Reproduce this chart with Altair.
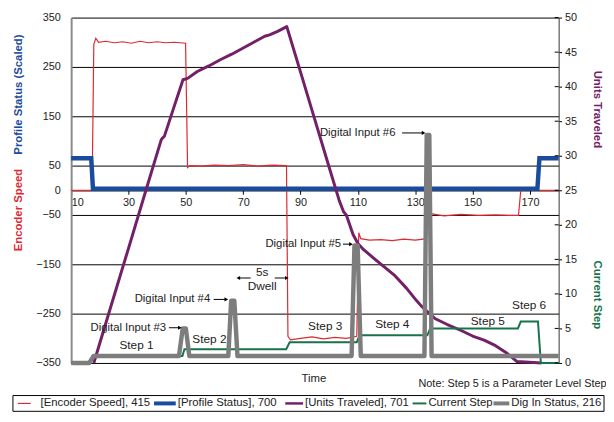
import altair as alt
import pandas as pd

# ---------------- data ----------------
red_t = [10, 17.3, 17.9, 18.6, 19.6, 22, 25, 28, 31, 34, 37, 40, 43, 46, 49.9, 50.6, 51.4, 55, 60, 65, 70, 75, 80,
         85.1, 85.6, 86.5, 90, 94, 98, 102, 106, 109.6, 110.3, 111.0, 114, 118, 122, 126, 130, 133.9, 134.5, 136,
         140, 146, 152, 158, 163, 166.0, 166.8, 172, 180]
red_v = [0, 0, 296, 308, 300, 302, 299, 301, 298, 302, 299, 301, 299, 300, 298, 46, 50, 49, 51, 50, 52, 49, 51,
         50, -296, -303, -300, -297, -301, -298, -300, -296, -86, -98, -101, -100, -102, -99, -101, -98, -50, -48,
         -52, -49, -51, -50, -51, -51, 0, 0, 0]

blue_t = [10, 17.0, 17.6, 172.6, 173.3, 180]
blue_v = [65, 65, 3, 3, 65, 65]

pur_t = [17.9, 24, 30, 36, 41.4, 41.9, 42.5, 45.5, 49.0, 50.6, 54, 58, 62, 66, 70, 74, 77.5, 79.2, 82, 85.2,
         90, 95, 100, 103.5, 105.0, 106.0, 108.3, 110, 112, 116, 119.5, 123, 127, 130.5, 132, 134, 137, 141, 146,
         150, 154, 158, 162, 165.5, 174]
pur_r = [0, 8.4, 16.6, 24.9, 32.3, 32.6, 32.8, 36.6, 41.0, 41.2, 42.2, 43.0, 43.9, 44.7, 45.6, 46.5, 47.3, 47.5,
         48.0, 48.7, 42.1, 35.2, 28.3, 23.5, 21.9, 21.4, 18.6, 17.3, 16.4, 15.0, 13.8, 12.6, 10.8, 9.0, 8.3, 7.5,
         6.4, 5.6, 4.7, 3.9, 3.3, 2.5, 1.4, 0.2, 0]

grn_t = [10, 16.5, 17.5, 48.8, 49.5, 85.0, 86.2, 109.6, 110.6, 134.2, 135.2, 165.8, 166.8, 172.8, 173.8, 180]
grn_r = [0, 0, 1, 1, 2, 2, 3, 3, 4, 4, 5, 5, 6, 6, 0, 0]

gry_t = [10, 16.3, 17.8, 47.6, 48.9, 50.0, 51.2, 64.8, 65.8, 66.9, 68.0, 107.8, 108.8, 109.9, 111.0,
         133.2, 134.0, 134.9, 135.7, 180]
gry_r = [0, 0, 1, 1, 5, 5, 1, 1, 9, 9, 1, 1, 17, 17, 1, 1, 33, 33, 1, 1]

x_ticks = [10, 30, 50, 70, 90, 110, 130, 150, 170]
yl_ticks = [350, 250, 150, 50, 0, -50, -150, -250, -350]
yr_ticks = [0, 5, 10, 15, 20, 25, 30, 35, 40, 45, 50]

# annotations (time, right-scale value)
din_labels = ["Digital Input #3", "Digital Input #4", "Digital Input #5", "Digital Input #6"]
din_t = [43.1, 58.5, 104.1, 123.1]
din_r = [5.1, 9.2, 17.2, 33.3]
arrow_t1 = [44.1, 59.7, 104.8, 125.4, 72.6, 81.0]
arrow_t2 = [47.9, 64.1, 107.6, 132.9, 68.3, 85.2]
arrow_r = [5.1, 9.2, 17.2, 33.3, 12.3, 12.3]
arrow_dir = ["triangle-right", "triangle-right", "triangle-right", "triangle-right", "triangle-left", "triangle-right"]

step_labels = ["Step 1", "Step 2", "Step 3", "Step 4", "Step 5", "Step 6", "5s", "Dwell"]
step_t = [32.8, 58.2, 98.6, 122.0, 155.3, 169.7, 76.6, 76.6]
step_r = [2.6, 3.4, 5.3, 5.7, 6.0, 8.4, 13.2, 11.1]

legend_labels = ["[Encoder Speed], 415", "[Profile Status], 700", "[Units Traveled], 701", "Current Step",
                 "Dig In Status, 216"]

# ---------------- styles ----------------
FONT = "Liberation Sans, Arial, sans-serif"
RED = "#dc2a32"
BLUE = "#1a4b9c"
PURPLE = "#722068"
GREEN = "#17744a"
GREY = "#7d7d7d"
TXT = "#222222"

df_red = pd.DataFrame({"t": red_t, "v": red_v})
df_blue = pd.DataFrame({"t": blue_t, "v": blue_v})
df_pur = pd.DataFrame({"t": pur_t, "r": pur_r})
df_grn = pd.DataFrame({"t": grn_t, "r": grn_r})
df_gry = pd.DataFrame({"t": gry_t, "r": gry_r})
df_din = pd.DataFrame({"t": din_t, "r": din_r, "label": din_labels})
df_arr = pd.DataFrame({"t1": arrow_t1, "t2": arrow_t2, "r": arrow_r, "shape": arrow_dir})
df_step = pd.DataFrame({"t": step_t, "r": step_r, "label": step_labels})
df_rt = pd.DataFrame({"r": yr_ticks})

xscale = alt.Scale(domain=[10, 180], nice=False, zero=False)
xaxis = alt.Axis(values=x_ticks, offset=-175, title=None, grid=False, labelFont=FONT, labelFontSize=11,
                 labelColor=TXT, tickSize=4, tickColor="#000", domainColor="#000", labelPadding=2)

ylscale = alt.Scale(domain=[-350, 350], nice=False, zero=False)
ylaxis = alt.Axis(values=yl_ticks, orient="left", title=None, grid=True, gridColor="#000", gridOpacity=1,
                  gridWidth=1, ticks=False, labelPadding=11, domainColor="#8a8a8a", domainWidth=2,
                  labelFont=FONT, labelFontSize=11, labelColor=TXT)

yrscale = alt.Scale(domain=[0, 50], nice=False, zero=False)
yraxis = alt.Axis(values=yr_ticks, orient="right", title=None, grid=False, tickSize=3, tickColor="#000",
                  domainColor="#333", domainWidth=1, labelPadding=3, labelFont=FONT, labelFontSize=11,
                  labelColor=TXT)


def XF(f):
    return alt.X(f, type="quantitative", scale=xscale, axis=xaxis)


def YL(f):
    return alt.Y(f, type="quantitative", scale=ylscale, axis=ylaxis)


def YR(f):
    return alt.Y(f, type="quantitative", scale=yrscale, axis=yraxis)


red = alt.Chart(df_red).mark_line(color=RED, strokeWidth=1.2).encode(x=XF("t"), y=YL("v"), order="t:Q")
blue = alt.Chart(df_blue).mark_line(color=BLUE, strokeWidth=4.5).encode(x=XF("t"), y=YL("v"), order="t:Q")
left = alt.layer(red, blue)

pur = alt.Chart(df_pur).mark_line(color=PURPLE, strokeWidth=3, strokeJoin="round").encode(
    x=XF("t"), y=YR("r"), order="t:Q")
grn = alt.Chart(df_grn).mark_line(color=GREEN, strokeWidth=2).encode(x=XF("t"), y=YR("r"), order="t:Q")
gry = alt.Chart(df_gry).mark_line(color=GREY, strokeWidth=4.5, strokeJoin="round").encode(
    x=XF("t"), y=YR("r"), order="t:Q")
rticks = alt.Chart(df_rt).mark_rule(color="#000", strokeWidth=1).encode(
    y=YR("r"), x=alt.value(490), x2=alt.value(494))
din_text = alt.Chart(df_din).mark_text(align="right", baseline="middle", font=FONT, fontSize=11.5,
                                        color=TXT).encode(x=XF("t"), y=YR("r"), text="label:N")
step_text = alt.Chart(df_step).mark_text(align="center", baseline="middle", font=FONT, fontSize=12,
                                          color=TXT).encode(x=XF("t"), y=YR("r"), text="label:N")
arr_line = alt.Chart(df_arr).mark_rule(color="#000", strokeWidth=1).encode(
    x=XF("t1"), x2="t2:Q", y=YR("r"))
arr_head = alt.Chart(df_arr).mark_point(filled=True, color="#000", size=18, opacity=1).encode(
    x=XF("t2"), y=YR("r"), shape=alt.Shape("shape:N", scale=None))
right = alt.layer(pur, grn, gry, rticks, din_text, step_text, arr_line, arr_head)

one = pd.DataFrame({"a": [0]})


def label(txt, x, y, color=TXT, size=11, angle=0, bold=False, align="center"):
    return alt.Chart(one).mark_text(font=FONT, fontSize=size, angle=angle, color=color,
                                    fontWeight="bold" if bold else "normal", align=align,
                                    baseline="middle").encode(
        x=alt.value(x), y=alt.value(y), text=alt.value(txt))


overlays = [
    label("Profile Status (Scaled)", -53, 78, BLUE, 11.5, 270, True),
    label("Encoder Speed", -53, 195, RED, 11.5, 270, True),
    label("Units Traveled", 533, 93, PURPLE, 11.5, 90, True),
    label("Current Step", 533, 281, GREEN, 11.5, 90, True),
    label("Time", 246, 366, TXT, 11.5),
    label("Note: Step 5 is a Parameter Level Step", 352, 371, TXT, 11, align="left"),
    alt.Chart(one).mark_rect(fill="white", fillOpacity=0, stroke="#000", strokeWidth=1).encode(
        x=alt.value(-59), x2=alt.value(540), y=alt.value(383), y2=alt.value(399)),
]

leg_colors = [RED, BLUE, PURPLE, GREEN, GREY]
leg_widths = [1.2, 4, 2.5, 2, 4]
leg_x1 = [-54, 84, 217, 346, 428]
leg_x2 = [-41, 106, 235, 360, 444]
leg_xt = [-31, 108, 237, 362, 446]
for c, w, a, b, xt, lab in zip(leg_colors, leg_widths, leg_x1, leg_x2, leg_xt, legend_labels):
    overlays.append(alt.Chart(one).mark_rule(color=c, strokeWidth=w).encode(
        x=alt.value(a), x2=alt.value(b), y=alt.value(391)))
    overlays.append(label(lab, xt, 391, TXT, 11.5, align="left"))

chart = alt.layer(left, right, *overlays).resolve_scale(y="independent").properties(
    width=494, height=350,
    autosize=alt.AutoSizeParams(type="none"),
    padding={"left": 64, "top": 7, "right": 48, "bottom": 50},
).configure_view(stroke=None)

chart.save("out.html", embed_options={"renderer": "svg", "actions": False})
